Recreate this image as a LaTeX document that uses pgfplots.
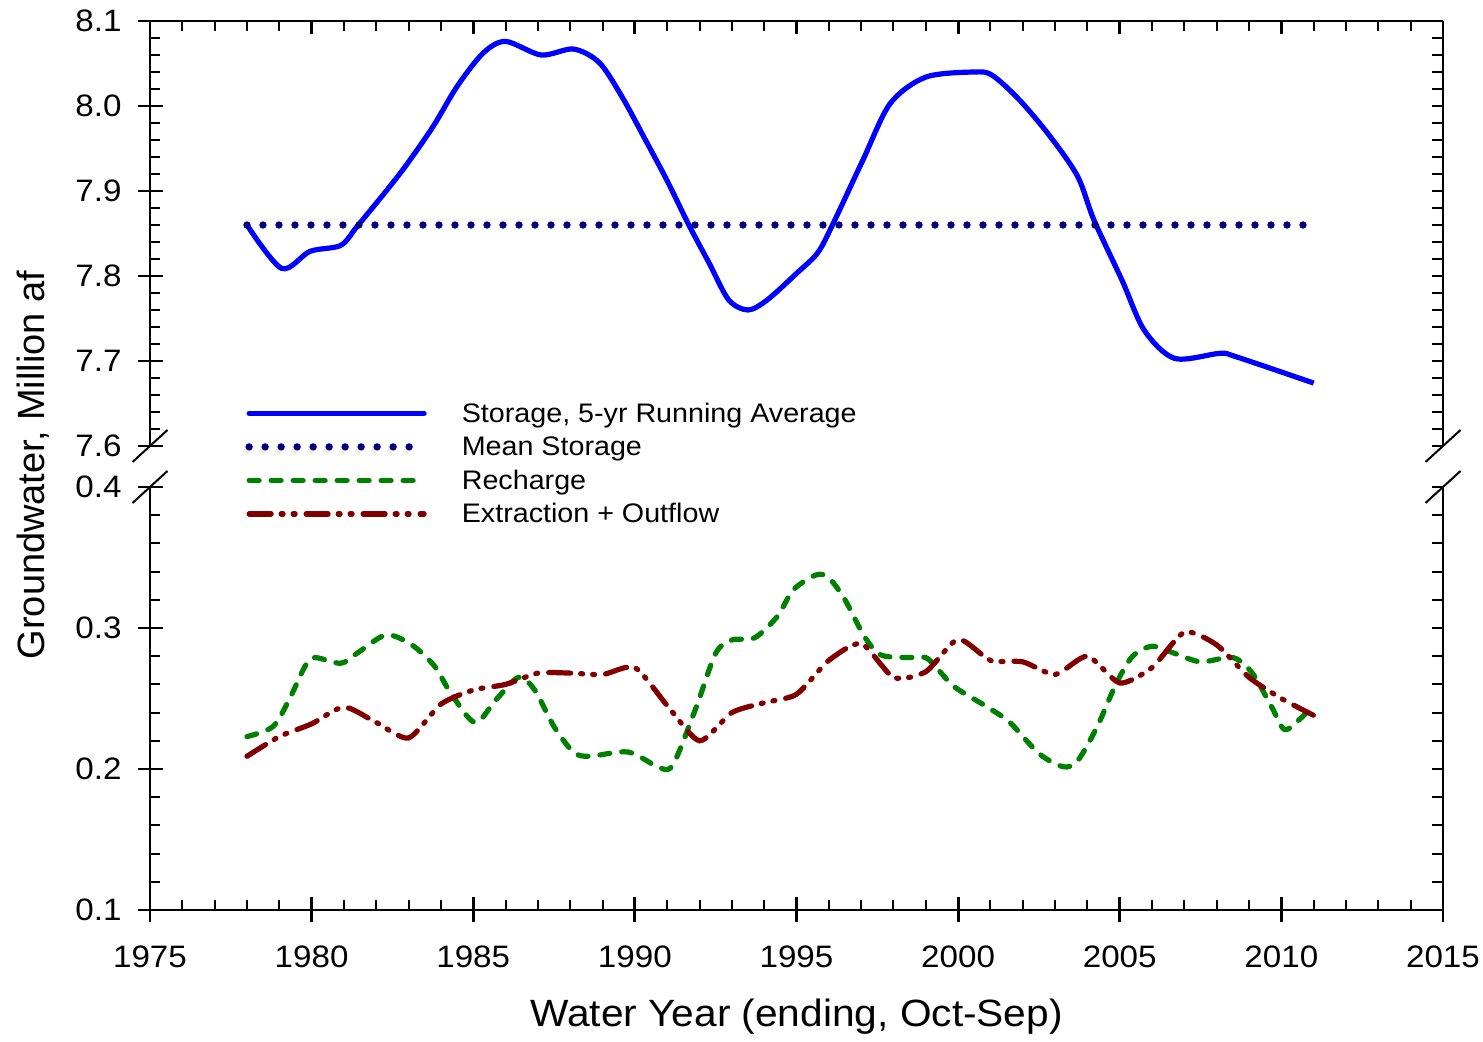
\documentclass[border=0pt]{standalone}
\usepackage{fontspec}
\setmainfont{Liberation Sans}[FakeStretch=1.07]
\newfontfamily\plainsans{Liberation Sans}
\usepackage{pgfplots}
\pgfplotsset{compat=1.18}

\definecolor{stor}{HTML}{0000FF}
\definecolor{meanc}{HTML}{000080}
\definecolor{rech}{HTML}{008000}
\definecolor{extr}{HTML}{800000}

\pgfplotsset{
  panel/.style={
    scale only axis, width=646.5pt, anchor=south west,
    xmin=1975, xmax=2015,
    xtick={1975,1980,1985,1990,1995,2000,2005,2010,2015}, minor x tick num=4,
    axis line style={-, line width=1.2pt},
    tick align=inside,
    major tick length=6.5pt, minor tick length=5pt,
    tick style={black, line width=1.4pt},
    minor tick style={line width=1pt},
  },
  ynum/.style={/pgf/number format/.cd, fixed, fixed zerofill, precision=1,
    assume math mode=true, /tikz/.cd,
    font=\fontsize{15.5}{18}\selectfont, inner sep=0pt, xshift=-14pt},
  xnum/.style={/pgf/number format/.cd, 1000 sep={}, assume math mode=true, /tikz/.cd,
    font=\fontsize{15.5}{18}\selectfont, inner sep=0pt, yshift=-17.5pt},
  tickout/.style={tick align=outside, major tick length=6pt},
}

\begin{document}
\begin{tikzpicture}
% upper panel: storage
\begin{axis}[panel, at={(0pt,232pt)}, height=212.5pt,
    ymin=7.6, ymax=8.1,
    axis x line*=top, axis y line*=left,
    xticklabels={},
    ytick={7.6,7.7,7.8,7.9,8.0,8.1}, minor y tick num=4,
    y tick label style={ynum},
    extra y ticks={7.6,7.7,7.8,7.9,8.0,8.1}, extra y tick labels={},
    extra y tick style={tickout}]
\addplot[stor, line width=2.6pt, smooth] coordinates {
  (1978,7.860) (1979.07,7.809) (1979.95,7.829) (1980.9,7.836) (1981.4,7.858)
  (1982.2,7.895) (1982.9,7.929) (1983.76,7.976) (1984.5,8.023) (1985.3,8.062)
  (1986.0,8.076) (1987.1,8.060) (1988.1,8.067) (1988.9,8.051) (1989.6,8.011)
  (1990.3,7.962) (1991.0,7.912) (1991.67,7.860) (1992.3,7.815) (1992.9,7.772)
  (1993.5,7.760) (1994.1,7.772) (1995.0,7.803) (1995.65,7.827) (1996.1,7.859)
  (1997.05,7.936) (1997.9,8.003) (1999.0,8.034) (2000.5,8.040) (2001.06,8.036)
  (2001.9,8.007) (2002.85,7.964) (2003.7,7.917) (2004.2,7.866) (2005.07,7.795)
  (2005.76,7.736) (2006.7,7.703) (2008.1,7.709) (2008.6,7.705) (2011.0,7.674)
};
\addplot[meanc, line width=3.7pt, line cap=round, dash pattern=on 0pt off 8pt]
  coordinates {(1978,7.86) (2011,7.86)};
\end{axis}
\begin{axis}[panel, at={(0pt,232pt)}, height=212.5pt,
    ymin=7.6, ymax=8.1,
    axis x line=none, axis y line*=right,
    ytick={7.6,7.7,7.8,7.9,8.0,8.1}, minor y tick num=4, yticklabels={},
    major tick length=5.5pt, minor tick length=5.5pt]
\end{axis}

% lower panel: recharge and extraction
\begin{axis}[panel, at={(0pt,0pt)}, height=211.5pt,
    ymin=0.1, ymax=0.4,
    axis x line*=bottom, axis y line*=left,
    x tick label style={xnum},
    ytick={0.1,0.2,0.3,0.4}, minor y tick num=4,
    y tick label style={ynum},
    extra x ticks={1975,1980,1985,1990,1995,2000,2005,2010,2015}, extra x tick labels={},
    extra x tick style={tickout},
    extra y ticks={0.1,0.2,0.3,0.4}, extra y tick labels={},
    extra y tick style={tickout},
    legend style={draw=none, fill=none, inner sep=0pt,
      at={(0.0735,1.199)}, anchor=north west,
      font=\fontsize{13.4}{16}\selectfont, row sep=4.35pt,
      nodes={inner sep=0pt, text height=9.6pt, text depth=2.8pt},
      /tikz/every odd column/.append style={column sep=17pt}},
    legend cell align=left,
    legend image code/.code={\draw[#1] (0pt,1.1pt) -- (87.5pt,1.1pt);}]
\addlegendimage{stor, line width=2.6pt, line cap=round}
\addlegendentry{Storage, 5-yr Running Average}
\addlegendimage{meanc, line width=3.7pt, line cap=round, dash pattern=on 0pt off 8pt}
\addlegendentry{Mean Storage}
\addplot[rech, line width=2.6pt, line cap=round, dash pattern=on 5pt off 6pt, smooth] coordinates {
  (1978,0.223) (1978.8,0.230) (1979.3,0.249) (1979.8,0.273) (1980.1,0.279)
  (1980.9,0.275) (1981.4,0.282) (1982.3,0.295) (1983.1,0.288) (1983.8,0.273)
  (1984.3,0.254) (1985.05,0.233) (1985.7,0.249) (1986.4,0.265) (1986.9,0.256)
  (1987.5,0.230) (1988.1,0.212) (1988.6,0.209) (1989.8,0.212) (1990.8,0.2005)
  (1991.2,0.204) (1991.9,0.244) (1992.5,0.282) (1993.0,0.2915) (1993.7,0.293)
  (1994.4,0.308) (1994.9,0.327) (1995.6,0.3376) (1996.0,0.3355) (1996.5,0.320)
  (1997.1,0.294) (1997.6,0.281) (1998.4,0.279) (1999.0,0.279) (1999.4,0.270)
  (1999.9,0.258) (2000.9,0.244) (2001.6,0.233) (2002.5,0.211) (2003.25,0.2016)
  (2003.7,0.206) (2004.3,0.230) (2004.9,0.261) (2005.4,0.280) (2006.0,0.287)
  (2006.7,0.282) (2007.5,0.276) (2008.5,0.279) (2009.1,0.268) (2009.7,0.244)
  (2010.1,0.228) (2010.6,0.236) (2011.0,0.2454)
};
\addlegendentry{Recharge}
\addplot[extr, line width=2.6pt, line cap=round,
    dash pattern=on 11pt off 5pt on 1pt off 5pt on 1pt off 5.5pt, smooth, tension=0.4] coordinates {
  (1978,0.209) (1979,0.223) (1980,0.232) (1981,0.244) (1982,0.233)
  (1983,0.222) (1984,0.246) (1985,0.256) (1986,0.260) (1987,0.268)
  (1988,0.268) (1989,0.267) (1990,0.272) (1991,0.245) (1992,0.220)
  (1993,0.240) (1994,0.247) (1995,0.253) (1996,0.277) (1997,0.289)
  (1998,0.265) (1999,0.269) (2000,0.292) (2001,0.277) (2002,0.276)
  (2003,0.267) (2004,0.280) (2005,0.261) (2006,0.272) (2007,0.297)
  (2008,0.288) (2009,0.265) (2010,0.250) (2011,0.238)
};
\addlegendentry{Extraction + Outflow}
\end{axis}
\begin{axis}[panel, at={(0pt,0pt)}, height=211.5pt,
    ymin=0.1, ymax=0.4,
    axis x line=none, axis y line*=right,
    ytick={0.1,0.2,0.3,0.4}, minor y tick num=4, yticklabels={},
    major tick length=5.5pt, minor tick length=5.5pt]
\end{axis}

% axis titles and break marks
\node[rotate=90, font=\plainsans\fontsize{19}{22}\selectfont] at (-58.5pt,222.5pt) {Groundwater, Million af};
\node[font=\fontsize{19}{22}\selectfont] at (323.25pt,-53.5pt) {Water Year (ending, Oct-Sep)};
\foreach \xx in {0pt,646.5pt} {
  \draw[line width=1pt] ([shift={(-8.75pt,-8pt)}]\xx,232pt) -- ([shift={(8.75pt,8pt)}]\xx,232pt);
  \draw[line width=1pt] ([shift={(-8.75pt,-8pt)}]\xx,211.5pt) -- ([shift={(8.75pt,8pt)}]\xx,211.5pt);
}
\path (-75pt,-63pt) rectangle (666.5pt,455pt);
\end{tikzpicture}
\end{document}
